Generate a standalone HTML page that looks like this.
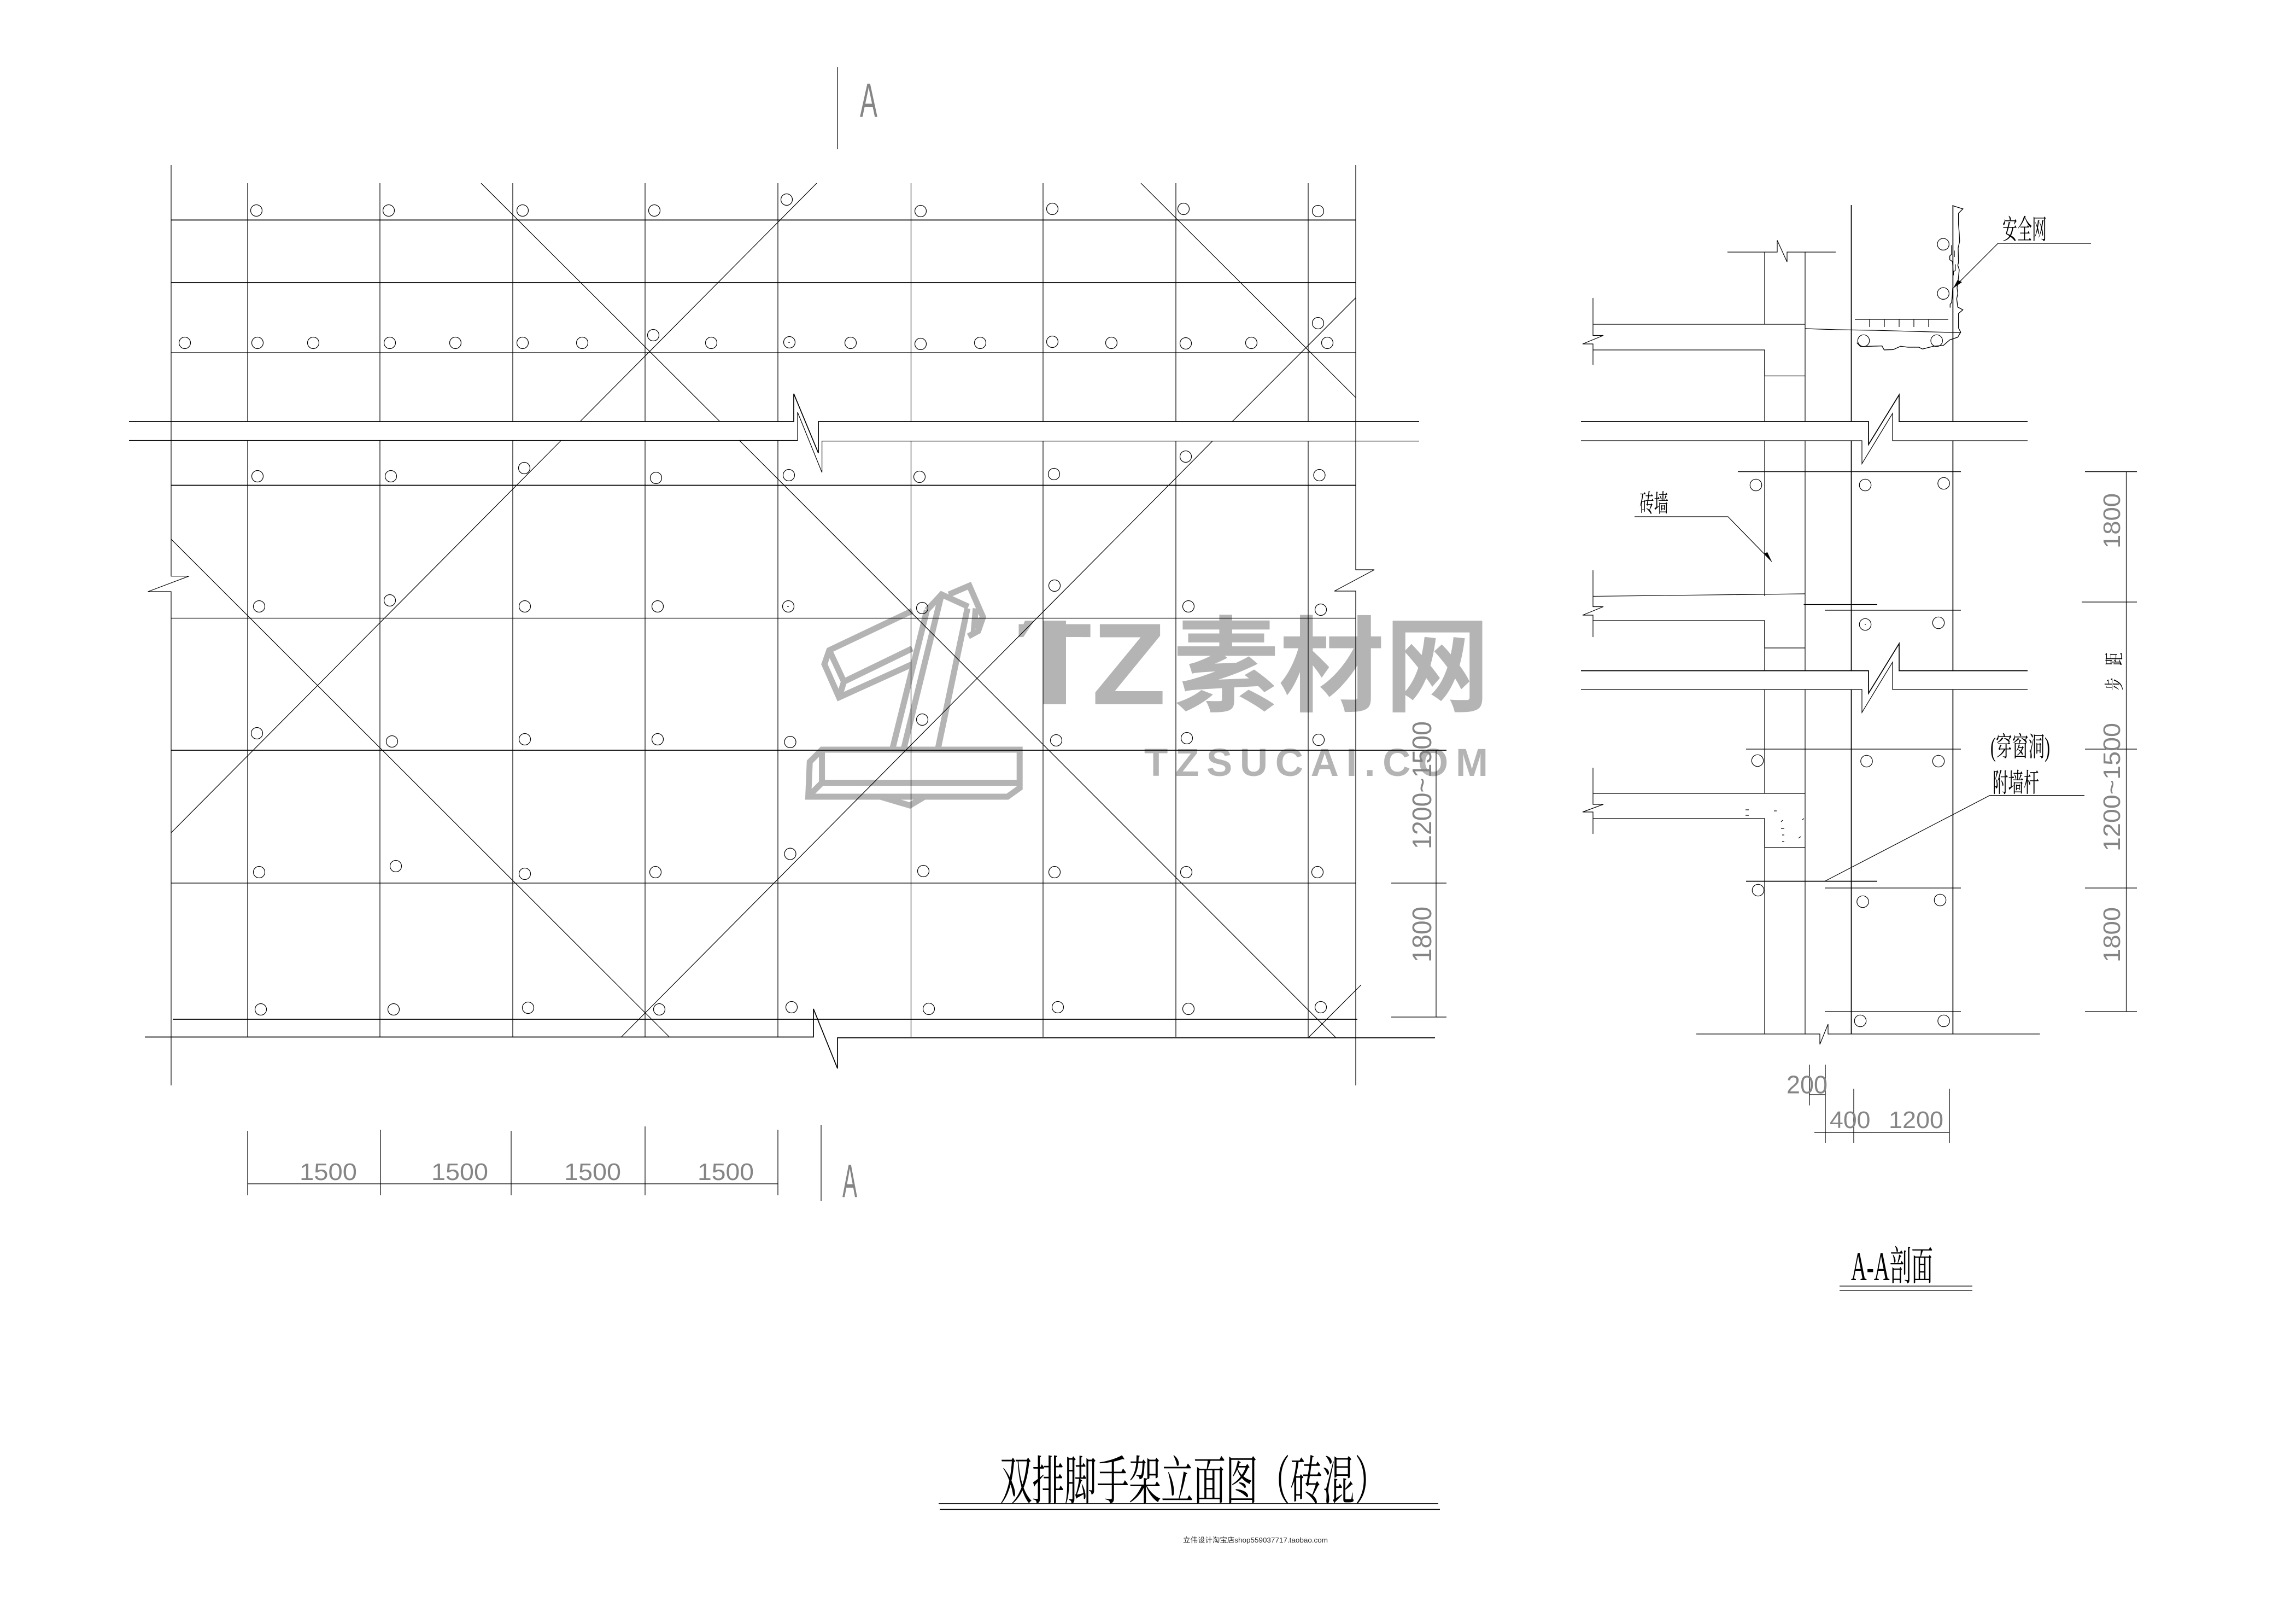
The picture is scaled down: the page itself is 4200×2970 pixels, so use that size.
<!DOCTYPE html>
<html><head><meta charset="utf-8"><style>
html,body{margin:0;padding:0;background:#fff}
svg{display:block}
.l{fill:none;stroke:#000;stroke-width:1.2}
.k{fill:none;stroke:#000;stroke-width:1.7}
.c{fill:none;stroke:#000;stroke-width:1.2}
.d{font-family:"Liberation Sans",sans-serif;fill:#858585}
.z{font-family:"Liberation Serif","Noto Serif CJK SC",serif;fill:#000}
.w{fill:none;stroke:#b4b4b4;stroke-width:11;vector-effect:non-scaling-stroke;stroke-linejoin:miter}
</style></head><body>
<svg xmlns="http://www.w3.org/2000/svg" width="4200" height="2970" viewBox="0 0 4200 2970">
<rect width="4200" height="2970" fill="#fff"/>

<!-- watermark -->
<g transform="translate(1450,950) scale(0.8929,0.6378)">
<polyline class="w" points="245,262 75,375 65,415 95,510 245,415"/>
<polyline class="w" points="75,375 105,465 245,370"/>
<line class="w" x1="105" y1="465" x2="95" y2="510"/>
<polyline class="w" points="275,260 205,655"/>
<polyline class="w" points="305,215 228,655"/>
<polyline class="w" points="358,255 298,655"/>
<polyline class="w" points="275,260 305,215 360,250"/>
<polyline class="w" points="320,215 362,190 390,280 380,320 360,335"/>
<polyline class="w" points="375,255 372,305 388,285"/>
<polygon class="w" points="35,695 60,660 465,660 465,770 440,795 32,795"/>
<polyline class="w" points="60,660 60,755 460,755"/>
<line class="w" x1="60" y1="755" x2="35" y2="790"/>
<polyline class="w" points="180,795 240,820 270,795"/>
</g>
<g fill="#b4b4b4" font-weight="700">
<text x="1861" y="1288" font-family="Liberation Sans,sans-serif" font-size="213" textLength="272" lengthAdjust="spacingAndGlyphs">TZ</text>
<text x="2146" y="1286" font-family="Noto Sans CJK SC,sans-serif" font-size="190" textLength="580" lengthAdjust="spacingAndGlyphs">素材网</text>
<text x="2093" y="1419" font-family="Liberation Sans,sans-serif" font-size="71" textLength="629">TZSUCAI.COM</text>
</g>
<polygon points="1888,1125 1908,1125 1908,1170 1868,1170" fill="#fff"/>
<polygon points="1860,1170 1908,1170 1908,1290 1860,1290" fill="#fff"/>
<polygon points="1862,1165 1875,1135 1892,1135 1872,1165" fill="#b4b4b4"/>
<rect x="1908" y="1135" width="42" height="153" fill="#b4b4b4"/>
<rect x="1950" y="1165" width="28" height="125" fill="#fff"/>

<!-- elevation grid -->
<path class="l" d="M313 302V1053.6H346L270.6 1082H313V1985"/>
<path class="l" d="M2480 302V1042H2514L2441 1081H2480V1985"/>
<path class="l" d="M453 335V771M453 806V1896M695 335V771M695 806V1896M938 335V771M938 806V1896M1180 335V771M1180 806V1896M1423 335V771M1423 806V1896M1666.5 335V771M1666.5 806V1896M1908 335V771M1908 806V1896M2151 335V771M2151 806V1896M2393 335V771M2393 806V1896"/>
<path class="k" d="M313 402.4H2480M313 517H2480M313 887.5H2480M313 1372H2646M316 1864H2483"/>
<path class="l" d="M313 645H2480M313 1130.5H2480M313 1615H2480"/>
<!-- grounds -->
<path class="k" d="M236 771H1452V720L1497 828.6V771H2596"/>
<path class="l" d="M236 805.5H1459V754L1503.6 864V806.6H2596"/>
<path class="k" d="M265 1896.5H1488V1845L1532 1954V1898H2625"/>
<!-- diagonals -->
<path class="l" d="M880 335L1316 770M1352 805L2444 1898M1494 335L1062 770M1027 805L313 1523M313 986L1224 1896M2480 544.6L2254 771M2218 806.6L1137 1896M2087 335L2480 727M2490 1801L2393 1898"/>

<!-- elevation circles -->
<g class="c">
<circle cx="469" cy="385" r="10.5"/><circle cx="711" cy="385" r="10.5"/><circle cx="956" cy="385" r="10.5"/><circle cx="1197" cy="385" r="10.5"/><circle cx="1439" cy="365" r="10.5"/><circle cx="1684" cy="386" r="10.5"/><circle cx="1925" cy="382" r="10.5"/><circle cx="2165" cy="382" r="10.5"/><circle cx="2411" cy="386" r="10.5"/>
<circle cx="338" cy="627" r="10.5"/><circle cx="471" cy="627" r="10.5"/><circle cx="573" cy="627" r="10.5"/><circle cx="713" cy="627" r="10.5"/><circle cx="833" cy="627" r="10.5"/><circle cx="956" cy="627" r="10.5"/><circle cx="1065" cy="627" r="10.5"/><circle cx="1195" cy="613" r="10.5"/><circle cx="1301" cy="627" r="10.5"/><circle cx="1444" cy="626" r="10.5"/><circle cx="1556" cy="627" r="10.5"/><circle cx="1684" cy="629" r="10.5"/><circle cx="1793" cy="627" r="10.5"/><circle cx="1925" cy="625" r="10.5"/><circle cx="2033" cy="627" r="10.5"/><circle cx="2169" cy="628" r="10.5"/><circle cx="2289" cy="627" r="10.5"/><circle cx="2411" cy="591" r="10.5"/><circle cx="2428" cy="627" r="10.5"/>
<circle cx="471" cy="871" r="10.5"/><circle cx="715" cy="871" r="10.5"/><circle cx="959" cy="856" r="10.5"/><circle cx="1200" cy="874" r="10.5"/><circle cx="1443" cy="869" r="10.5"/><circle cx="1682" cy="872" r="10.5"/><circle cx="1928" cy="867" r="10.5"/><circle cx="2169" cy="835" r="10.5"/><circle cx="2413.5" cy="869" r="10.5"/>
<circle cx="474" cy="1109" r="10.5"/><circle cx="713" cy="1098" r="10.5"/><circle cx="960" cy="1109" r="10.5"/><circle cx="1203" cy="1109" r="10.5"/><circle cx="1442" cy="1109" r="10.5"/><circle cx="1687" cy="1112" r="10.5"/><circle cx="1929" cy="1071" r="10.5"/><circle cx="2174" cy="1109" r="10.5"/><circle cx="2416" cy="1115" r="10.5"/>
<circle cx="470" cy="1341" r="10.5"/><circle cx="717" cy="1356" r="10.5"/><circle cx="960" cy="1352" r="10.5"/><circle cx="1203" cy="1352" r="10.5"/><circle cx="1445.5" cy="1357" r="10.5"/><circle cx="1687" cy="1316" r="10.5"/><circle cx="1932" cy="1354" r="10.5"/><circle cx="2171" cy="1350" r="10.5"/><circle cx="2412" cy="1353" r="10.5"/>
<circle cx="474" cy="1595" r="10.5"/><circle cx="724" cy="1584" r="10.5"/><circle cx="960" cy="1598" r="10.5"/><circle cx="1199" cy="1595" r="10.5"/><circle cx="1445.5" cy="1561.6" r="10.5"/><circle cx="1689" cy="1593" r="10.5"/><circle cx="1929" cy="1595" r="10.5"/><circle cx="2170" cy="1595" r="10.5"/><circle cx="2410" cy="1595" r="10.5"/>
<circle cx="477" cy="1846" r="10.5"/><circle cx="720" cy="1846" r="10.5"/><circle cx="966" cy="1843" r="10.5"/><circle cx="1206" cy="1846" r="10.5"/><circle cx="1448" cy="1842" r="10.5"/><circle cx="1699" cy="1845" r="10.5"/><circle cx="1935" cy="1842" r="10.5"/><circle cx="2174" cy="1845" r="10.5"/><circle cx="2416" cy="1842" r="10.5"/>
</g>
<path class="l" d="M1442 626h3M1440 1109h3M3411 1142h2"/>

<!-- elevation dims -->
<path class="l" d="M453 2068V2186M696 2066V2186M935 2068V2186M1180 2060V2186M1423 2066V2186M453 2165H1423M1502 2057V2196M1532 123V273"/>
<path class="l" d="M2627 1372V1860M2545 1615H2646M2545 1860H2646"/>
<text class="d" x="548" y="2158" font-size="44" textLength="105" lengthAdjust="spacingAndGlyphs">1500</text>
<text class="d" x="789" y="2158" font-size="44" textLength="104" lengthAdjust="spacingAndGlyphs">1500</text>
<text class="d" x="1032" y="2158" font-size="44" textLength="104" lengthAdjust="spacingAndGlyphs">1500</text>
<text class="d" x="1276" y="2158" font-size="44" textLength="103" lengthAdjust="spacingAndGlyphs">1500</text>
<text class="d" x="1541" y="2189" font-size="85" textLength="27" lengthAdjust="spacingAndGlyphs">A</text>
<text class="d" x="1573" y="214" font-size="88" textLength="32" lengthAdjust="spacingAndGlyphs">A</text>
<text class="d" transform="translate(2618,1553) rotate(-90)" font-size="49" textLength="234" lengthAdjust="spacingAndGlyphs">1200~1500</text>
<text class="d" transform="translate(2618,1760) rotate(-90)" font-size="49" textLength="102" lengthAdjust="spacingAndGlyphs">1800</text>

<!-- section: walls and scaffold -->
<path class="l" d="M3160 461H3251V439.5L3269 479V461H3358"/>
<path class="l" d="M3228 461V593M3228 640V771M3228 806V1090M3228 1135V1226M3228 1261V1451M3228 1497V1891M3302 461V771M3302 806V1226M3302 1261V1891"/>
<path class="k" d="M3386.5 375V771M3386.5 806V1226M3386.5 1261V1891M3572.4 375V771M3572.4 806V1226M3572.4 1261V1891"/>
<!-- slabs -->
<path class="l" d="M2914 545V613.5H2933L2895 629H2914V667M2914 593H3302M2914 640H3228V687.5H3302"/>
<path class="l" d="M2914 1043V1109.5H2933L2895 1125H2914V1165M2914 1090.5L3302 1086M2914 1135H3228V1185H3302"/>
<path class="l" d="M2914 1404V1471H2933L2895 1485H2914V1525M2914 1451H3302M2914 1497H3228V1550H3302"/>
<path class="l" d="M3193 1481h6M3193 1491h6M3245 1483h5M3258 1503l3 -3M3258 1515h6M3260 1527h4M3260 1539h4M3297 1499l3 -2M3290 1533l4 -3"/>
<!-- section grounds -->
<path class="k" d="M2892 771H3418V813L3474 722V771H3709"/>
<path class="l" d="M2892 806H3406V848L3462 756V806H3709"/>
<path class="k" d="M2892 1226.6H3418V1268L3474 1177V1226.6H3709"/>
<path class="l" d="M2892 1261H3406V1303L3462 1211V1261H3709"/>
<path class="l" d="M3103 1891H3329V1910L3344 1873V1891H3731.6"/>
<!-- section levels -->
<path class="l" d="M3179 862.6H3587M3299.5 1105.5H3434M3338 1116H3587M3194 1370H3587M3338 1624H3587M3338 1850H3587"/>
<path class="k" d="M3194 1611.6H3434"/>
<!-- platform and net -->
<path class="l" d="M3393 584H3564M3420 584V598M3447 584V598M3474 584V598M3501 584V598M3528 584V598M3302 601L3360 603L3427 604L3587 608.5"/>
<g transform="translate(3360,370) scale(0.3333)">
<polyline class="l" style="stroke-width:4" points="640,20 692,36 668,60 668,120 672,170 674,215 666,250 668,330 664,345 672,370 666,430 660,470 664,500 658,530 664,575 692,590 668,610 668,690 680,712 664,740 620,755 585,785 530,790 470,805 450,795 390,795 350,790 310,808 260,810 248,788 180,790 130,792 110,770"/>
<polyline class="l" style="stroke-width:4" points="630,235 630,285 620,295 620,315 635,325 640,400"/>
<polyline class="l" style="stroke-width:4" points="645,265 645,300"/>
<polyline class="l" style="stroke-width:4" points="650,340 650,375 640,380 640,400"/>
<polyline class="l" style="stroke-width:4" points="636,470 634,510 630,550 622,560 622,578"/>
</g>
<!-- section circles -->
<g class="c">
<circle cx="3554.7" cy="446.7" r="10.7"/><circle cx="3554.7" cy="536.7" r="10.7"/><circle cx="3409" cy="623" r="10.7"/><circle cx="3542.7" cy="623" r="10.7"/>
<circle cx="3212" cy="887" r="10.7"/><circle cx="3412" cy="887" r="10.7"/><circle cx="3555.6" cy="884" r="10.7"/>
<circle cx="3412" cy="1142" r="10.7"/><circle cx="3546" cy="1139" r="10.7"/>
<circle cx="3215" cy="1391" r="10.7"/><circle cx="3414.5" cy="1392" r="10.7"/><circle cx="3546" cy="1392" r="10.7"/>
<circle cx="3216" cy="1628" r="10.7"/><circle cx="3407.5" cy="1649" r="10.7"/><circle cx="3549" cy="1646" r="10.7"/>
<circle cx="3403" cy="1867" r="10.7"/><circle cx="3555.6" cy="1867" r="10.7"/>
</g>
<!-- leaders -->
<path class="l" d="M3825 445H3655L3573 527M2990 945H3161L3241 1027M3813 1454.6H3640L3338 1611.6"/>
<polygon points="3573,527 3581,512 3589,516" fill="#000"/>
<polygon points="3241,1027 3227,1012 3233,1010" fill="#000"/>
<text class="z" x="3663" y="437" font-size="50" textLength="81" lengthAdjust="spacingAndGlyphs">安全网</text>
<text class="z" x="2999" y="936" font-size="45" textLength="53" lengthAdjust="spacingAndGlyphs">砖墙</text>
<text class="z" x="3641" y="1383" font-size="50" textLength="109" lengthAdjust="spacingAndGlyphs">(穿窗洞)</text>
<text class="z" x="3645" y="1448" font-size="48" textLength="85" lengthAdjust="spacingAndGlyphs">附墙杆</text>
<!-- section dims -->
<path class="l" d="M3889.5 862.6V1850M3814 862.6H3909M3808 1101H3909M3814 1370H3909M3814 1624H3909M3814 1850H3909"/>
<text class="d" transform="translate(3878,1003) rotate(-90)" font-size="44" textLength="101" lengthAdjust="spacingAndGlyphs">1800</text>
<text class="d" transform="translate(3878,1557) rotate(-90)" font-size="44" textLength="235" lengthAdjust="spacingAndGlyphs">1200~1500</text>
<text class="d" transform="translate(3878,1760) rotate(-90)" font-size="44" textLength="101" lengthAdjust="spacingAndGlyphs">1800</text>
<text class="z" transform="translate(3880,1263) rotate(-90) scale(0.66,1)" font-size="36">步</text>
<text class="z" transform="translate(3880,1217) rotate(-90) scale(0.66,1)" font-size="36">距</text>
<path class="l" d="M3310 1947V2021.5M3339 1947V2090M3391 1991V2090M3566 1991V2090M3319 2071H3566M3310 2002H3339"/>
<text class="d" x="3268" y="1999.5" font-size="46" textLength="75" lengthAdjust="spacingAndGlyphs">200</text>
<text class="d" x="3347" y="2063" font-size="44" textLength="74.5" lengthAdjust="spacingAndGlyphs">400</text>
<text class="d" x="3455" y="2063" font-size="44" textLength="100" lengthAdjust="spacingAndGlyphs">1200</text>
<!-- titles -->
<text class="z" x="3386" y="2341" font-size="74" textLength="150" lengthAdjust="spacingAndGlyphs">A-A剖面</text>
<path class="l" d="M3365 2352H3608M3365 2360H3608"/>
<text class="z" x="1829" y="2742" font-size="96" textLength="708" lengthAdjust="spacingAndGlyphs">双排脚手架立面图（砖混）</text>
<path class="k" d="M1717 2750H2631M1719 2760.5H2634"/>
<text x="2164" y="2821" font-family="Liberation Sans,Noto Sans CJK SC,sans-serif" font-size="13" textLength="265" lengthAdjust="spacingAndGlyphs" fill="#222">立伟设计淘宝店shop559037717.taobao.com</text>
</svg>
</body></html>
